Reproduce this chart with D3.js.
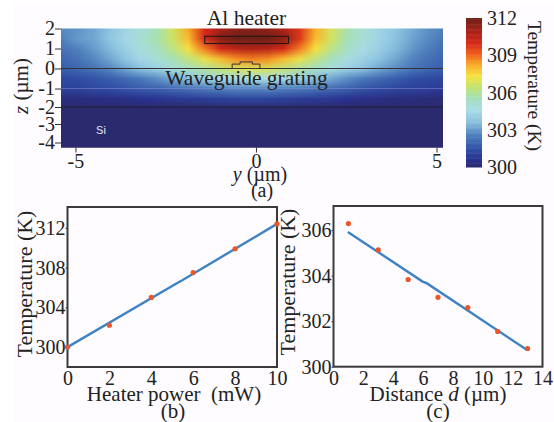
<!DOCTYPE html>
<html>
<head>
<meta charset="utf-8">
<script src="https://cdn.jsdelivr.net/npm/d3@7"></script>
<style>
  html, body { margin: 0; padding: 0; background: #fff; }
  svg { display: block; }
  text { font-family: "Liberation Serif", serif; fill: #222; }
</style>
</head>
<body>
<div id="chart"></div>
<script>
// temperature field of panel (a): one row per z, one column per y
var fieldY = [-5.4,-4.96,-4.52,-4.08,-3.64,-3.2,-2.76,-2.32,-1.88,-1.44,-1,-0.56,-0.12,0.32,0.76,1.2,1.64,2.08,2.52,2.96,3.4,3.84,4.28,4.72,5.16];
var fieldZ = [2,1.5,1,0.5,0,-0.5,-1,-1.5,-2,-2.5,-3,-3.5,-4];
var fieldT = [
  [302.8,302.9,303.2,303.7,304.3,304.9,305.6,306.7,308.3,310,311,311.5,311.6,311.4,310.9,309.8,308.2,306.8,305.7,305,304.3,303.8,303.3,302.9,302.6],
  [302.6,303,303.2,303.8,304.4,305,305.7,306.6,308,310,311.6,312,312,312,311.5,309.8,308,306.7,305.6,305,304.3,303.7,303.2,302.8,302.4],
  [302.3,302.6,303,303.5,304.2,304.8,305.4,306.2,307.4,308.8,310,310.6,310.8,310.6,310,308.8,307.4,306.2,305.3,304.7,304.1,303.5,303,302.6,302.2],
  [302,302.3,302.7,303.2,303.8,304.4,305,305.6,306.3,307.2,308,308.6,308.8,308.6,308,307.2,306.3,305.5,304.8,304.2,303.7,303.2,302.7,302.3,302],
  [301.8,302,302.3,302.7,303.2,303.7,304.2,304.8,305.4,305.9,306.4,306.8,306.9,306.8,306.4,305.9,305.3,304.8,304.2,303.7,303.2,302.8,302.4,302.1,301.8],
  [301.3,301.4,301.6,301.8,302.1,302.4,302.8,303.2,303.7,304.1,304.5,304.7,304.8,304.7,304.5,304.1,303.6,303.2,302.8,302.4,302.1,301.8,301.5,301.3,301.2],
  [301.1,301.1,301.3,301.4,301.6,301.8,301.9,302.1,302.3,302.5,302.6,302.7,302.7,302.7,302.6,302.5,302.3,302.1,301.9,301.6,301.4,301.2,301.1,301,300.9],
  [300.3,300.3,300.4,300.4,300.5,300.6,300.7,300.8,300.9,301,301.1,301.2,301.2,301.2,301.1,301,300.9,300.8,300.6,300.5,300.4,300.3,300.3,300.2,300.2],
  [300,300,300,300,300,300,300,300,300,300,300,300,300,300,300,300,300,300,300,300,300,300,300,300,300],
  [300,300,300,300,300,300,300,300,300,300,300,300,300,300,300,300,300,300,300,300,300,300,300,300,300],
  [300,300,300,300,300,300,300,300,300,300,300,300,300,300,300,300,300,300,300,300,300,300,300,300,300],
  [300,300,300,300,300,300,300,300,300,300,300,300,300,300,300,300,300,300,300,300,300,300,300,300,300],
  [300,300,300,300,300,300,300,300,300,300,300,300,300,300,300,300,300,300,300,300,300,300,300,300,300]
];
var colorTemps = [300,300.6,301.5,302.6,303.6,304.6,305.6,306.5,307.4,308.3,309.2,310,311,312];
var colorHexes = ["#2c2a6e","#29318f","#3150a5","#4f80bd","#89c0df","#a9dce8","#a5e0b8","#c5e46e","#f7e040","#f8a825","#ee5a1e","#d52a1a","#a82218","#6e2018"];
var heatYTicks = [-5,0,5];
var heatZTicks = [2,1,0,-1,-2,-3,-4];
var barTicks = [300,303,306,309,312];
// heater and waveguide outlines, in um
var heaterY = [-1.42,0.9];
var heaterZ = [1.61,1.25];
var guideY = [-0.66,-0.66,-0.44,-0.44,-0.1,-0.1,0.11,0.11];
var guideZ = [0,0.22,0.22,0.33,0.33,0.22,0.22,0];

// panel (b)
var powerX = [0,2,4,6,8,10];
var powerT = [300,302.2,305,307.5,309.9,312.4];
var powerFitX = [0,5.2,5.5,10];
var powerFitT = [300,306.4,306.75,312.4];
var powerXTicks = [0,2,4,6,8,10];
var powerYTicks = [300,304,308,312];

// panel (c)
var distX = [1,3,5,7,9,11,13];
var distT = [306.29,305.13,303.83,303.05,302.6,301.55,300.8];
var distFitX = [0.96,5.97,6.24,12.97];
var distFitT = [305.92,303.74,303.67,300.73];
var distXTicks = [0,2,4,6,8,10,12,14];
var distYTicks = [300,302,304,306];

var svg = d3.select("#chart")
  .append("svg")
    .attr("width", 554)
    .attr("height", 422);

svg.append("rect")
    .attr("x", 14).attr("y", 3)
    .attr("width", 540).attr("height", 419)
    .style("fill", "#fefcfe");

var color = d3.scaleLinear().domain(colorTemps).range(colorHexes).clamp(true);

// ---- panel (a) ----
var heatX = d3.scaleLinear().domain([-5.4,5.18]).range([61,443]);
// the z ticks of the picture are not evenly spaced
var heatZ = d3.scaleLinear()
    .domain([2,1,0,-1,-2,-3,-4,-4.25])
    .range([28.5,48.5,68.5,88.5,107,124,142.5,147.5]);

// one canvas pixel per field value, the browser smooths it when it is scaled up
var canvas = document.createElement("canvas");
canvas.width = fieldY.length;
canvas.height = fieldZ.length;
var ctx = canvas.getContext("2d");
fieldT.forEach(function (row, j) {
  row.forEach(function (t, i) {
    ctx.fillStyle = color(t);
    ctx.fillRect(i, j, 1, 1);
  });
});

var cellW = heatX(fieldY[1]) - heatX(fieldY[0]);
var cellH = heatZ(fieldZ[1]) - heatZ(fieldZ[0]);

svg.append("clipPath").attr("id", "heat-clip")
  .append("rect")
    .attr("x", heatX.range()[0]).attr("y", heatZ(2))
    .attr("width", heatX.range()[1] - heatX.range()[0])
    .attr("height", heatZ(-4.25) - heatZ(2));

svg.append("rect")
    .attr("x", heatX.range()[0]).attr("y", heatZ(-4))
    .attr("width", heatX.range()[1] - heatX.range()[0])
    .attr("height", heatZ(-4.25) - heatZ(-4))
    .style("fill", color(300));

svg.append("g")
    .attr("clip-path", "url(#heat-clip)")
  .append("image")
    .attr("href", canvas.toDataURL())
    .attr("preserveAspectRatio", "none")
    .attr("x", heatX(fieldY[0]) - cellW / 2)
    .attr("y", heatZ(fieldZ[0]) - cellH / 2)
    .attr("width", cellW * fieldY.length)
    .attr("height", cellH * fieldZ.length);

// layer boundaries
[[0,"#333",1.1,1],[-1,"#8f93d6",0.8,0.6],[-2,"#1f1f2a",1.1,1]].forEach(function (d) {
  svg.append("line")
      .attr("x1", heatX.range()[0]).attr("x2", heatX.range()[1])
      .attr("y1", heatZ(d[0])).attr("y2", heatZ(d[0]))
      .style("stroke", d[1])
      .style("stroke-width", d[2])
      .style("opacity", d[3]);
});

svg.append("rect")
    .attr("x", heatX(heaterY[0])).attr("y", heatZ(heaterZ[0]))
    .attr("width", heatX(heaterY[1]) - heatX(heaterY[0]))
    .attr("height", heatZ(heaterZ[1]) - heatZ(heaterZ[0]))
    .style("fill", "none")
    .style("stroke", "#2b1512")
    .style("stroke-width", 1.1);

svg.append("path")
    .attr("d", d3.line()
      .x(function (d, i) { return heatX(guideY[i]); })
      .y(function (d) { return heatZ(d); })(guideZ))
    .style("fill", "none")
    .style("stroke", "#333")
    .style("stroke-width", 1);

var heatYAxis = svg.append("g")
    .attr("transform", "translate(0," + heatZ(-4.25) + ")")
    .call(d3.axisBottom(heatX).tickValues(heatYTicks).tickSize(5).tickPadding(1).tickFormat(String));
var heatZAxis = svg.append("g")
    .attr("transform", "translate(" + heatX.range()[0] + ",0)")
    .call(d3.axisLeft(heatZ).tickValues(heatZTicks).tickSize(6).tickPadding(0).tickFormat(String));
[heatYAxis, heatZAxis].forEach(function (a) {
  a.select(".domain").remove();
  a.selectAll("line").style("stroke", "#333");
  a.selectAll("text").style("font-size", "20px").style("font-family", "Liberation Serif").style("fill", "#222");
});

svg.append("text").attr("x", 246.5).attr("y", 25).attr("text-anchor", "middle")
    .style("font-size", "21.5px").text("Al heater");
svg.append("text").attr("x", 246.5).attr("y", 85).attr("text-anchor", "middle")
    .style("font-size", "21.5px").text("Waveguide grating");
svg.append("text").attr("x", 101).attr("y", 134).attr("text-anchor", "middle")
    .style("font-size", "11px").style("font-family", "Liberation Sans").style("fill", "#e8e8f0").text("Si");

var zLabel = svg.append("text")
    .attr("transform", "translate(28,86) rotate(-90)")
    .attr("text-anchor", "middle")
    .style("font-size", "21px");
zLabel.append("tspan").style("font-style", "italic").text("z");
zLabel.append("tspan").text(" (µm)");

var yLabel = svg.append("text")
    .attr("x", 260).attr("y", 181)
    .attr("text-anchor", "middle")
    .style("font-size", "20px");
yLabel.append("tspan").style("font-style", "italic").text("y");
yLabel.append("tspan").text(" (µm)");

svg.append("text").attr("x", 262).attr("y", 197).attr("text-anchor", "middle")
    .style("font-size", "20px").text("(a)");

// colour bar
var barY = d3.scaleLinear().domain([300,312]).range([167,18]);
svg.append("g")
  .selectAll("rect")
  .data(d3.range(300, 312, 0.1))
  .enter()
  .append("rect")
    .attr("x", 466)
    .attr("y", function (d) { return barY(d + 0.1); })
    .attr("width", 16)
    .attr("height", function (d) { return barY(d) - barY(d + 0.1) + 0.5; })
    .style("fill", function (d) { return color(d + 0.05); });

svg.append("g")
  .selectAll("text")
  .data(barTicks)
  .enter()
  .append("text")
    .attr("x", 487)
    .attr("y", function (d) { return barY(d) + 7; })
    .style("font-size", "20px")
    .text(function (d) { return d; });

svg.append("text")
    .attr("transform", "translate(528,86) rotate(90)")
    .attr("text-anchor", "middle")
    .style("font-size", "19.5px")
    .text("Temperature (K)");

// ---- panels (b) and (c) ----
function linePanel(xr, yr, xd, yd, xTicks, yTicks, px, py, fx, fy) {
  var x = d3.scaleLinear().domain(xd).range(xr);
  var y = d3.scaleLinear().domain(yd).range(yr);

  var xAxis = svg.append("g")
      .attr("transform", "translate(0," + yr[0] + ")")
      .call(d3.axisBottom(x).tickValues(xTicks).tickSize(0).tickPadding(4).tickFormat(String));
  var yAxis = svg.append("g")
      .attr("transform", "translate(" + xr[0] + ",0)")
      .call(d3.axisLeft(y).tickValues(yTicks).tickSize(2).tickPadding(0).tickFormat(String));
  [xAxis, yAxis].forEach(function (a) {
    a.select(".domain").remove();
    a.selectAll("line").style("stroke", "#444");
    a.selectAll("text").style("font-size", "20px").style("font-family", "Liberation Serif").style("fill", "#222");
  });

  // frame goes under the marks, the end dots sit on top of it
  svg.append("rect")
      .attr("x", xr[0]).attr("y", yr[1])
      .attr("width", xr[1] - xr[0])
      .attr("height", yr[0] - yr[1])
      .style("fill", "none")
      .style("stroke", "#3a3a3a")
      .style("stroke-width", 2);

  svg.append("path")
      .attr("d", d3.line()
        .x(function (d, i) { return x(fx[i]); })
        .y(function (d) { return y(d); })(fy))
      .style("fill", "none")
      .style("stroke", "#3f82c4")
      .style("stroke-width", 2.4);

  svg.append("g")
    .selectAll("circle")
    .data(py)
    .enter()
    .append("circle")
      .attr("cx", function (d, i) { return x(px[i]); })
      .attr("cy", function (d) { return y(d); })
      .attr("r", 2.6)
      .style("fill", "#e8562a");
}

linePanel([67.5,277], [367,207], [0,10], [298,314.1], powerXTicks, powerYTicks, powerX, powerT, powerFitX, powerFitT);
linePanel([333.5,542.5], [366.7,206], [0,14], [300,307.06], distXTicks, distYTicks, distX, distT, distFitX, distFitT);

svg.append("text")
    .attr("transform", "translate(32,284) rotate(-90)")
    .attr("text-anchor", "middle")
    .style("font-size", "22px")
    .text("Temperature (K)");
svg.append("text").attr("x", 174).attr("y", 401).attr("text-anchor", "middle")
    .style("font-size", "21px").style("white-space", "pre").text("Heater power  (mW)");
svg.append("text").attr("x", 173).attr("y", 418).attr("text-anchor", "middle")
    .style("font-size", "21px").text("(b)");

svg.append("text")
    .attr("transform", "translate(295,282) rotate(-90)")
    .attr("text-anchor", "middle")
    .style("font-size", "22px")
    .text("Temperature (K)");
var dLabel = svg.append("text")
    .attr("x", 438).attr("y", 401)
    .attr("text-anchor", "middle")
    .style("font-size", "21px");
dLabel.append("tspan").text("Distance ");
dLabel.append("tspan").style("font-style", "italic").text("d");
dLabel.append("tspan").text(" (µm)");
svg.append("text").attr("x", 438).attr("y", 418).attr("text-anchor", "middle")
    .style("font-size", "21px").text("(c)");
</script>
</body>
</html>
